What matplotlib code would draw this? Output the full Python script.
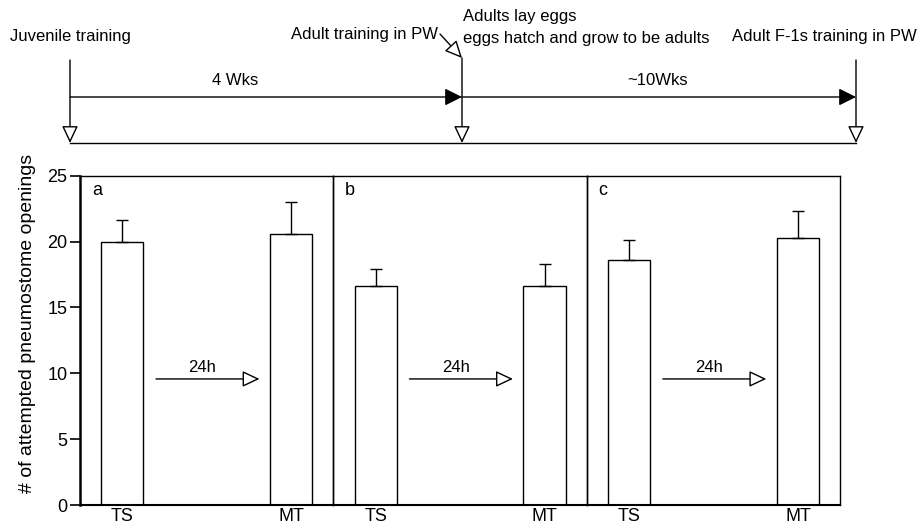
import matplotlib.pyplot as plt

plt.rcParams['font.family'] = ['Liberation Sans', 'DejaVu Sans']

panels = ['a', 'b', 'c']
groups = ['TS', 'MT']
ts_means = [20.0, 16.6, 18.6]
ts_err = [1.6, 1.3, 1.5]
mt_means = [20.6, 16.6, 20.3]
mt_err = [2.4, 1.7, 2.0]
interval = '24h'

fig = plt.figure(figsize=(9.19, 5.32), dpi=100)

# timeline diagram drawn in pixel coordinates on an overlay axes
bg = fig.add_axes([0, 0, 1, 1], zorder=0)
bg.set_xlim(0, 919)
bg.set_ylim(532, 0)
bg.axis('off')

hollow = dict(arrowstyle='-|>,head_length=0.7,head_width=0.33', fc='white', ec='black',
              lw=1, mutation_scale=15, shrinkA=0, shrinkB=0)
filled = dict(arrowstyle='-|>,head_length=0.7,head_width=0.35', fc='black', ec='black',
              lw=1, mutation_scale=15, shrinkA=0, shrinkB=0)

for x, y0 in [(70, 60), (462, 58), (856, 60)]:
    bg.annotate('', xy=(x, 143), xytext=(x, y0), arrowprops=hollow)
bg.plot([70, 856], [143, 143], color='black', lw=1)
bg.annotate('', xy=(462, 97), xytext=(70, 97), arrowprops=filled)
bg.annotate('', xy=(856, 97), xytext=(462, 97), arrowprops=filled)
bg.text(235, 88, '4 Wks', ha='center', va='bottom', fontsize=12)
bg.text(658, 88, '~10Wks', ha='center', va='bottom', fontsize=12)
bg.annotate('', xy=(462, 58), xytext=(440, 34), arrowprops=hollow)

bg.text(10, 36, 'Juvenile training', ha='left', va='center', fontsize=12)
bg.text(438, 34, 'Adult training in PW', ha='right', va='center', fontsize=12)
bg.text(463, 17, 'Adults lay eggs', ha='left', va='center', fontsize=12)
bg.text(463, 39, 'eggs hatch and grow to be adults', ha='left', va='center', fontsize=12)
bg.text(917, 36, 'Adult F-1s training in PW', ha='right', va='center', fontsize=12)

left = 80 / 919
width = 253.4 / 919
bottom = 1 - 505 / 532
height = (505 - 175.7) / 532

for i, lab in enumerate(panels):
    ax = fig.add_axes([left + i * width, bottom, width, height], zorder=1)
    ax.patch.set_alpha(0)
    ax.bar([1, 5], [ts_means[i], mt_means[i]], width=1.0, color='white',
           edgecolor='black', linewidth=1)
    ax.errorbar([1, 5], [ts_means[i], mt_means[i]],
                yerr=[[0, 0], [ts_err[i], mt_err[i]]], fmt='none',
                ecolor='black', elinewidth=1, capsize=4, capthick=1)
    ax.annotate('', xy=(4.25, 9.57), xytext=(1.8, 9.57), arrowprops=hollow)
    ax.text(2.9, 9.85, interval, ha='center', va='bottom', fontsize=12)
    ax.text(0.28, 23.9, lab, ha='left', va='center', fontsize=13)
    ax.set_xlim(0, 6)
    ax.set_ylim(0, 25)
    ax.set_xticks([1, 5])
    ax.set_xticklabels(groups, fontsize=13)
    ax.tick_params(axis='x', length=0, pad=2)
    for s in ax.spines.values():
        s.set_linewidth(1)
    ax.spines['bottom'].set_linewidth(1.5)
    if i == 0:
        ax.set_yticks([0, 5, 10, 15, 20, 25])
        ax.tick_params(axis='y', labelsize=13, length=7, width=1.2, pad=2)
        ax.spines['left'].set_linewidth(1.8)
        ax.set_ylabel('# of attempted pneumostome openings', fontsize=14)
        ax.yaxis.set_label_coords(-0.175, 0.55)
    else:
        ax.set_yticks([])

fig.savefig('out.png', dpi=100)
